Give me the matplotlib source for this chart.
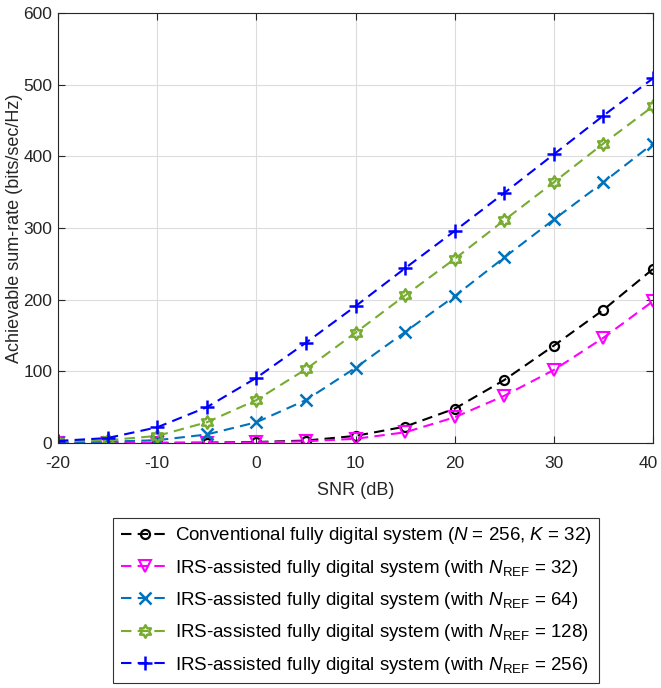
import numpy as np
import matplotlib
matplotlib.use("Agg")
import matplotlib.pyplot as plt
import matplotlib.transforms as mtransforms
from matplotlib.path import Path

plt.rcParams['font.family'] = ['Liberation Sans', 'DejaVu Sans']
plt.rcParams['mathtext.fontset'] = 'custom'
plt.rcParams['mathtext.rm'] = 'Liberation Sans'
plt.rcParams['mathtext.it'] = 'Liberation Sans:italic'
plt.rcParams['axes.unicode_minus'] = False

# SNR in dB
snr = [-20, -15, -10, -5, 0, 5, 10, 15, 20, 25, 30, 35, 40]

# sum-rates (bits/sec/Hz)
rate_conv = [0, 0.2, 0.3, 0.6, 1.5, 3.5, 10, 23, 48, 88, 136, 186, 243]
rate_irs32 = [0, 0.1, 0.2, 0.4, 1, 2.5, 6, 15, 36, 66, 102, 147, 198]
rate_irs64 = [1, 2, 4, 12, 29, 60, 105, 155, 205, 259, 312, 364, 418]
rate_irs128 = [2, 4, 10, 29, 60, 103, 154, 206, 257, 311, 364, 418, 470]
rate_irs256 = [3, 7, 22, 50, 91, 140, 191, 244, 296, 349, 403, 457, 509]

labels = [
    r'Conventional fully digital system ($N$ = 256, $K$ = 32)',
    r'IRS-assisted fully digital system (with $N_{\mathrm{REF}}$ = 32)',
    r'IRS-assisted fully digital system (with $N_{\mathrm{REF}}$ = 64)',
    r'IRS-assisted fully digital system (with $N_{\mathrm{REF}}$ = 128)',
    r'IRS-assisted fully digital system (with $N_{\mathrm{REF}}$ = 256)',
]

# six-pointed star marker (like MATLAB 'hexagram')
ang = np.pi / 2 + np.arange(12) * np.pi / 6
rad = np.where(np.arange(12) % 2 == 0, 1.0, 0.58)
verts = np.column_stack([rad * np.cos(ang), rad * np.sin(ang)])
verts = np.vstack([verts, verts[:1]])
hexagram = Path(verts, closed=True)

fig = plt.figure(figsize=(6.61, 6.88), dpi=100)
ax = fig.add_axes([0.0877, 0.356, 0.9003, 0.625])

kw = dict(lw=1.5, dashes=(5, 3))
ax.plot(snr, rate_conv, color='k', marker='o', ms=6.5, mfc='none', mew=1.6, label=labels[0], **kw)
ax.plot(snr, rate_irs32, color='#FF00FF', marker='v', ms=8, mfc='none', mew=1.5, label=labels[1], **kw)
ax.plot(snr, rate_irs64, color='#0072BD', marker='x', ms=8, mew=1.8, label=labels[2], **kw)
ax.plot(snr, rate_irs128, color='#77AC30', marker=hexagram, ms=9, mfc='none', mew=1.8, label=labels[3], **kw)
ax.plot(snr, rate_irs256, color='#0000FF', marker='+', ms=10, mew=1.8, label=labels[4], **kw)

ax.set_xlim(-20, 40)
ax.set_ylim(0, 600)
ax.set_xticks(range(-20, 41, 10))
ax.set_yticks(range(0, 601, 100))
ax.grid(True, color='#DCDCDC', lw=0.8)
ax.set_axisbelow(True)
ax.tick_params(direction='in', top=True, right=True, labelsize=12.5, length=5, colors='#262626')
ax.tick_params(axis='x', pad=9.5)
ax.tick_params(axis='y', pad=4)
for s in ax.spines.values():
    s.set_color('#262626')
ax.set_xlabel('SNR (dB)', fontsize=13, color='#262626', labelpad=8)
ax.set_ylabel('Achievable sum-rate (bits/sec/Hz)', fontsize=13, color='#262626')
ax.yaxis.set_label_coords(-0.059, 0.5)

# keep the last x tick label inside the figure
last = ax.get_xticklabels()[-1]
last.set_transform(last.get_transform() + mtransforms.ScaledTranslation(-5 / 100, 0, fig.dpi_scale_trans))

leg = fig.legend(loc='upper left', bbox_to_anchor=(113 / 661, 1 - 518 / 688), fontsize=13.5,
                 handlelength=2.6, frameon=True, fancybox=False, edgecolor='k',
                 borderaxespad=0, borderpad=0.4, labelspacing=0.6, handletextpad=0.3)
leg.get_frame().set_linewidth(0.8)

fig.savefig('out.png', dpi=100)
